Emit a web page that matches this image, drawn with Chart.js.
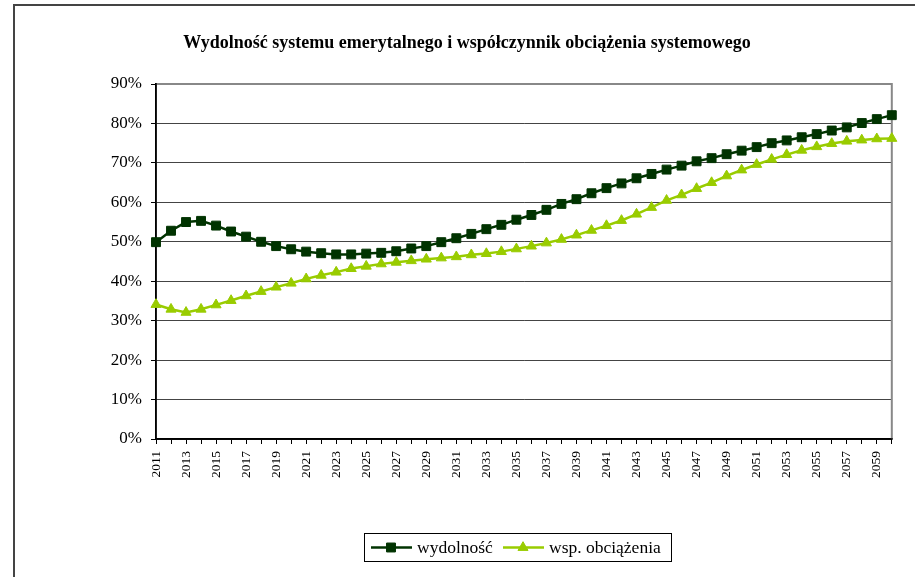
<!DOCTYPE html>
<html>
<head>
<meta charset="utf-8">
<script src="https://cdn.jsdelivr.net/npm/chart.js@4.4.1/dist/chart.umd.min.js"></script>
<style>
  html, body { margin: 0; padding: 0; background: #fff; }
  #wrap { position: relative; width: 915px; height: 577px; }
</style>
</head>
<body>
<div id="wrap"><canvas id="c" width="915" height="577"></canvas></div>
<script>
const chartTitle = 'Wydolność systemu emerytalnego i współczynnik obciążenia systemowego';
const years = [2011,2012,2013,2014,2015,2016,2017,2018,2019,2020,
  2021,2022,2023,2024,2025,2026,2027,2028,2029,2030,
  2031,2032,2033,2034,2035,2036,2037,2038,2039,2040,
  2041,2042,2043,2044,2045,2046,2047,2048,2049,2050,
  2051,2052,2053,2054,2055,2056,2057,2058,2059,2060];
const wydolnosc = [49.9,52.8,55.0,55.3,54.1,52.6,51.3,50.0,48.9,48.1,
  47.5,47.1,46.8,46.8,47.0,47.2,47.6,48.3,48.9,49.9,
  50.9,52.0,53.2,54.3,55.6,56.8,58.1,59.6,60.8,62.3,
  63.6,64.8,66.1,67.2,68.3,69.3,70.4,71.2,72.2,73.1,
  74.0,75.0,75.7,76.5,77.3,78.2,79.0,80.1,81.1,82.1];
const wspObciazenia = [34.1,32.9,32.1,32.9,34.0,35.1,36.3,37.4,38.5,39.5,
  40.6,41.5,42.3,43.2,43.8,44.4,44.8,45.2,45.6,45.9,
  46.2,46.7,47.0,47.5,48.2,48.9,49.7,50.6,51.7,52.9,
  54.1,55.4,57.0,58.7,60.5,61.9,63.5,65.0,66.7,68.2,
  69.6,70.9,72.1,73.2,74.1,74.9,75.5,75.8,76.1,76.2];
const seriesLabels = ['wydolność', 'wsp. obciążenia'];
const seriesColors = ['#003300', '#99cc00'];
const yTicks = [0,10,20,30,40,50,60,70,80,90];

const SERIF = '"Liberation Serif", "Times New Roman", serif';

const decor = {
  id: 'decor',
  beforeDraw(chart) {
    const ctx = chart.ctx;
    ctx.save();
    ctx.fillStyle = '#fff';
    ctx.fillRect(0, 0, chart.width, chart.height);
    // outer frame
    ctx.strokeStyle = '#444';
    ctx.lineWidth = 2;
    ctx.beginPath();
    ctx.moveTo(14, chart.height);
    ctx.lineTo(14, 5);
    ctx.lineTo(chart.width, 5);
    ctx.stroke();
    // title
    ctx.fillStyle = '#000';
    ctx.font = 'bold 18px ' + SERIF;
    ctx.textAlign = 'center';
    ctx.textBaseline = 'middle';
    ctx.fillText(chartTitle, 467, 43);
    ctx.restore();
  },
  afterDraw(chart) {
    const ctx = chart.ctx;
    ctx.save();
    // legend
    ctx.strokeStyle = '#000';
    ctx.lineWidth = 1;
    ctx.strokeRect(364.5, 533.5, 307, 28);
    const cy = 547.5;
    const entries = [
      {x1: 371, x2: 412, mx: 391, tx: 417},
      {x1: 503, x2: 544, mx: 523, tx: 549}
    ];
    chart.data.datasets.forEach((ds, i) => {
      const e = entries[i];
      ctx.strokeStyle = ds.borderColor;
      ctx.lineWidth = 2.5;
      ctx.beginPath();
      ctx.moveTo(e.x1, cy);
      ctx.lineTo(e.x2, cy);
      ctx.stroke();
      ctx.fillStyle = ds.pointBackgroundColor;
      ctx.strokeStyle = ds.pointBorderColor;
      ctx.lineWidth = 1;
      Chart.helpers.drawPoint(ctx, {pointStyle: ds.pointStyle, rotation: 0, borderWidth: 1, radius: ds.pointRadius}, e.mx, cy);
      ctx.fillStyle = '#000';
      ctx.font = '17.5px ' + SERIF;
      ctx.textAlign = 'left';
      ctx.textBaseline = 'middle';
      ctx.fillText(ds.label, e.tx, cy + 1);
    });
    ctx.restore();
  },
  beforeDatasetsDraw(chart) {
    const ctx = chart.ctx;
    const a = chart.chartArea;
    ctx.save();
    ctx.strokeStyle = '#888';
    ctx.lineWidth = 2;
    ctx.beginPath();
    ctx.moveTo(a.left, a.top);
    ctx.lineTo(a.right, a.top);
    ctx.lineTo(a.right, a.bottom);
    ctx.stroke();
    ctx.strokeStyle = '#000';
    ctx.lineWidth = 1.5;
    ctx.beginPath();
    ctx.moveTo(a.left, a.top - 1);
    ctx.lineTo(a.left, a.bottom);
    ctx.lineTo(a.right + 1, a.bottom);
    ctx.stroke();
    ctx.restore();
  }
};

new Chart(document.getElementById('c'), {
  type: 'line',
  data: {
    labels: years.map(String),
    datasets: [
      {
        label: seriesLabels[0],
        data: wydolnosc,
        borderColor: seriesColors[0],
        backgroundColor: seriesColors[0],
        pointBackgroundColor: seriesColors[0],
        pointBorderColor: seriesColors[0],
        pointStyle: 'rect',
        pointRadius: 6.3,
        pointBorderWidth: 1,
        borderWidth: 2.5,
        tension: 0,
        fill: false
      },
      {
        label: seriesLabels[1],
        data: wspObciazenia,
        borderColor: seriesColors[1],
        backgroundColor: seriesColors[1],
        pointBackgroundColor: seriesColors[1],
        pointBorderColor: seriesColors[1],
        pointStyle: 'triangle',
        pointRadius: 5.8,
        pointBorderWidth: 1,
        borderWidth: 2.5,
        tension: 0,
        fill: false
      }
    ]
  },
  options: {
    responsive: false,
    animation: false,
    devicePixelRatio: 1,
    layout: { padding: { left: 0, right: 23, top: 84, bottom: 0 } },
    plugins: {
      legend: { display: false },
      title: { display: false },
      tooltip: { enabled: false }
    },
    scales: {
      x: {
        type: 'category',
        offset: false,
        grid: { drawOnChartArea: false, drawTicks: true, tickLength: 5, tickColor: '#000', tickWidth: 1 },
        border: { display: true, color: '#000', width: 1.5 },
        ticks: {
          autoSkip: false,
          maxRotation: 90,
          minRotation: 90,
          padding: 7,
          color: '#000',
          font: { family: SERIF, size: 13.5 },
          callback: function (v, i) { return i % 2 === 0 ? years[i] : ''; }
        },
        afterFit: function (s) { s.height = 138; }
      },
      y: {
        min: 0,
        max: 90,
        afterBuildTicks: function (s) { s.ticks = yTicks.map(v => ({ value: v })); },
        grid: { color: '#444', lineWidth: 1, drawTicks: true, tickLength: 5, tickColor: '#000', tickWidth: 1 },
        border: { display: true, color: '#000', width: 1.5 },
        ticks: {
          padding: 9,
          color: '#000',
          font: { family: SERIF, size: 17 },
          callback: function (v) { return v + '%'; }
        },
        afterFit: function (s) { s.width = 156; }
      }
    }
  },
  plugins: [decor]
});
</script>
</body>
</html>
